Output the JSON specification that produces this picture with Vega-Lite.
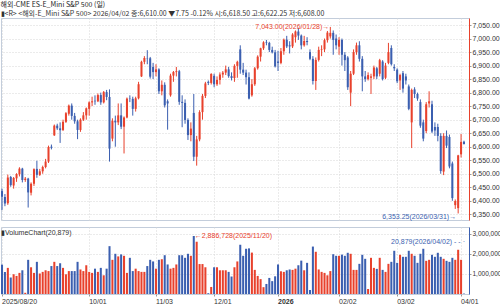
{
  "$schema": "https://vega.github.io/schema/vega-lite/v6.json",
  "padding": 0,
  "background": "white",
  "config": {
    "font": "Liberation Sans",
    "view": {"stroke": "#c3cddb"},
    "axis": {"labelFont": "Liberation Sans", "labelColor": "#333333", "domainColor": "#999999", "tickColor": "#999999", "gridColor": "#d6d6d6", "gridDash": [1, 2], "title": null},
    "axisY": {"labelOverlap": false, "tickCount": 40}
  },
  "title": {
    "text": "해외-CME ES-E_Mini S&P 500 (일)",
    "subtitle": "▮<R> <해외-E_Mini S&P 500> 2026/04/02 종:6,610.00   ▼7.75  -0.12%  시:6,618.50 고:6,622.25 저:6,608.00",
    "anchor": "start",
    "font": "Noto Sans CJK KR",
    "subtitleFont": "Noto Sans CJK KR",
    "fontSize": 7,
    "fontWeight": "normal",
    "subtitleFontSize": 7,
    "color": "#222222",
    "subtitleColor": "#333333",
    "offset": 1,
    "subtitlePadding": 2
  },
  "datasets": {
    "k": [
      {"d":"2025-08-20","o":6436,"h":6445,"l":6366,"c":6415,"v":1460000},
      {"d":"2025-08-21","o":6414,"h":6425,"l":6380,"c":6390,"v":1100000},
      {"d":"2025-08-22","o":6391,"h":6497,"l":6385,"c":6486,"v":1300000},
      {"d":"2025-08-25","o":6488,"h":6492,"l":6452,"c":6458,"v":820000},
      {"d":"2025-08-26","o":6457,"h":6488,"l":6445,"c":6484,"v":980000},
      {"d":"2025-08-27","o":6483,"h":6502,"l":6470,"c":6499,"v":900000},
      {"d":"2025-08-28","o":6498,"h":6524,"l":6490,"c":6519,"v":1050000},
      {"d":"2025-08-29","o":6519,"h":6522,"l":6468,"c":6477,"v":1180000},
      {"d":"2025-09-01","o":6477,"h":6488,"l":6470,"c":6482,"v":60000},
      {"d":"2025-09-02","o":6482,"h":6485,"l":6375,"c":6431,"v":1700000},
      {"d":"2025-09-03","o":6430,"h":6468,"l":6420,"c":6463,"v":1330000},
      {"d":"2025-09-04","o":6463,"h":6520,"l":6455,"c":6517,"v":1050000},
      {"d":"2025-09-05","o":6518,"h":6548,"l":6485,"c":6496,"v":1600000},
      {"d":"2025-09-08","o":6496,"h":6518,"l":6492,"c":6509,"v":1020000},
      {"d":"2025-09-09","o":6509,"h":6530,"l":6500,"c":6525,"v":1100000},
      {"d":"2025-09-10","o":6525,"h":6555,"l":6520,"c":6545,"v":1180000},
      {"d":"2025-09-11","o":6545,"h":6604,"l":6540,"c":6599,"v":1140000},
      {"d":"2025-09-12","o":6600,"h":6608,"l":6590,"c":6596,"v":1390000},
      {"d":"2025-09-15","o":6642,"h":6682,"l":6640,"c":6678,"v":1600000},
      {"d":"2025-09-16","o":6678,"h":6685,"l":6662,"c":6668,"v":1390000},
      {"d":"2025-09-17","o":6668,"h":6690,"l":6614,"c":6661,"v":1530000},
      {"d":"2025-09-18","o":6662,"h":6700,"l":6658,"c":6692,"v":1300000},
      {"d":"2025-09-19","o":6692,"h":6728,"l":6688,"c":6724,"v":980000},
      {"d":"2025-09-22","o":6722,"h":6756,"l":6715,"c":6752,"v":1140000},
      {"d":"2025-09-23","o":6752,"h":6760,"l":6700,"c":6714,"v":1140000},
      {"d":"2025-09-24","o":6714,"h":6725,"l":6685,"c":6694,"v":1140000},
      {"d":"2025-09-25","o":6694,"h":6700,"l":6628,"c":6662,"v":1600000},
      {"d":"2025-09-26","o":6662,"h":6705,"l":6655,"c":6700,"v":1220000},
      {"d":"2025-09-29","o":6700,"h":6728,"l":6695,"c":6716,"v":1140000},
      {"d":"2025-09-30","o":6716,"h":6745,"l":6700,"c":6742,"v":1430000},
      {"d":"2025-10-01","o":6740,"h":6768,"l":6715,"c":6764,"v":1100000},
      {"d":"2025-10-02","o":6764,"h":6785,"l":6750,"c":6768,"v":1050000},
      {"d":"2025-10-03","o":6770,"h":6790,"l":6755,"c":6768,"v":1260000},
      {"d":"2025-10-06","o":6768,"h":6797,"l":6765,"c":6791,"v":1100000},
      {"d":"2025-10-07","o":6791,"h":6800,"l":6755,"c":6764,"v":1300000},
      {"d":"2025-10-08","o":6764,"h":6806,"l":6760,"c":6802,"v":930000},
      {"d":"2025-10-09","o":6802,"h":6810,"l":6772,"c":6784,"v":1260000},
      {"d":"2025-10-10","o":6784,"h":6812,"l":6545,"c":6593,"v":2380000},
      {"d":"2025-10-13","o":6630,"h":6705,"l":6620,"c":6696,"v":1700000},
      {"d":"2025-10-14","o":6696,"h":6715,"l":6600,"c":6690,"v":2000000},
      {"d":"2025-10-15","o":6690,"h":6760,"l":6680,"c":6716,"v":1870000},
      {"d":"2025-10-16","o":6716,"h":6760,"l":6665,"c":6674,"v":1970000},
      {"d":"2025-10-17","o":6674,"h":6712,"l":6575,"c":6708,"v":1900000},
      {"d":"2025-10-20","o":6708,"h":6782,"l":6705,"c":6778,"v":1050000},
      {"d":"2025-10-21","o":6778,"h":6790,"l":6765,"c":6777,"v":1800000},
      {"d":"2025-10-22","o":6777,"h":6785,"l":6715,"c":6740,"v":1140000},
      {"d":"2025-10-23","o":6740,"h":6785,"l":6730,"c":6779,"v":1260000},
      {"d":"2025-10-24","o":6779,"h":6840,"l":6775,"c":6831,"v":1140000},
      {"d":"2025-10-27","o":6860,"h":6918,"l":6858,"c":6914,"v":1100000},
      {"d":"2025-10-28","o":6914,"h":6935,"l":6905,"c":6928,"v":1100000},
      {"d":"2025-10-29","o":6928,"h":6957,"l":6905,"c":6927,"v":1390000},
      {"d":"2025-10-30","o":6927,"h":6932,"l":6852,"c":6859,"v":1700000},
      {"d":"2025-10-31","o":6895,"h":6910,"l":6850,"c":6876,"v":1620000},
      {"d":"2025-11-03","o":6876,"h":6905,"l":6860,"c":6886,"v":1260000},
      {"d":"2025-11-04","o":6886,"h":6890,"l":6795,"c":6805,"v":1700000},
      {"d":"2025-11-05","o":6805,"h":6845,"l":6790,"c":6829,"v":1730000},
      {"d":"2025-11-06","o":6829,"h":6838,"l":6745,"c":6753,"v":1930000},
      {"d":"2025-11-07","o":6768,"h":6775,"l":6663,"c":6760,"v":1470000},
      {"d":"2025-11-10","o":6790,"h":6870,"l":6785,"c":6863,"v":1260000},
      {"d":"2025-11-11","o":6863,"h":6880,"l":6840,"c":6876,"v":1300000},
      {"d":"2025-11-12","o":6876,"h":6895,"l":6860,"c":6879,"v":1470000},
      {"d":"2025-11-13","o":6879,"h":6884,"l":6755,"c":6766,"v":1930000},
      {"d":"2025-11-14","o":6766,"h":6790,"l":6672,"c":6762,"v":1930000},
      {"d":"2025-11-17","o":6762,"h":6775,"l":6685,"c":6699,"v":1800000},
      {"d":"2025-11-18","o":6699,"h":6705,"l":6625,"c":6643,"v":2000000},
      {"d":"2025-11-19","o":6643,"h":6690,"l":6620,"c":6667,"v":1900000},
      {"d":"2025-11-20","o":6725,"h":6795,"l":6547,"c":6563,"v":2886728},
      {"d":"2025-11-21","o":6563,"h":6640,"l":6530,"c":6627,"v":2600000},
      {"d":"2025-11-24","o":6627,"h":6735,"l":6620,"c":6728,"v":1490000},
      {"d":"2025-11-25","o":6728,"h":6795,"l":6700,"c":6788,"v":1490000},
      {"d":"2025-11-26","o":6788,"h":6840,"l":6780,"c":6834,"v":1330000},
      {"d":"2025-11-27","o":6840,"h":6845,"l":6828,"c":6836,"v":40000},
      {"d":"2025-11-28","o":6836,"h":6872,"l":6830,"c":6869,"v":350000},
      {"d":"2025-12-01","o":6862,"h":6870,"l":6820,"c":6831,"v":1330000},
      {"d":"2025-12-02","o":6831,"h":6860,"l":6825,"c":6847,"v":1330000},
      {"d":"2025-12-03","o":6847,"h":6875,"l":6830,"c":6867,"v":1180000},
      {"d":"2025-12-04","o":6867,"h":6880,"l":6855,"c":6874,"v":1180000},
      {"d":"2025-12-05","o":6874,"h":6900,"l":6865,"c":6886,"v":1180000},
      {"d":"2025-12-08","o":6886,"h":6895,"l":6855,"c":6861,"v":1100000},
      {"d":"2025-12-09","o":6861,"h":6875,"l":6845,"c":6854,"v":870000},
      {"d":"2025-12-10","o":6854,"h":6905,"l":6840,"c":6899,"v":1330000},
      {"d":"2025-12-11","o":6899,"h":6918,"l":6855,"c":6914,"v":1620000},
      {"d":"2025-12-12","o":6960,"h":6975,"l":6870,"c":6885,"v":2450000},
      {"d":"2025-12-15","o":6885,"h":6910,"l":6865,"c":6874,"v":1900000},
      {"d":"2025-12-16","o":6874,"h":6885,"l":6830,"c":6857,"v":2250000},
      {"d":"2025-12-17","o":6857,"h":6875,"l":6775,"c":6778,"v":2270000},
      {"d":"2025-12-18","o":6790,"h":6850,"l":6785,"c":6831,"v":2060000},
      {"d":"2025-12-19","o":6831,"h":6895,"l":6825,"c":6890,"v":1200000},
      {"d":"2025-12-22","o":6890,"h":6938,"l":6885,"c":6933,"v":900000},
      {"d":"2025-12-23","o":6933,"h":6966,"l":6915,"c":6964,"v":740000},
      {"d":"2025-12-24","o":6964,"h":6990,"l":6958,"c":6986,"v":340000},
      {"d":"2025-12-26","o":6986,"h":6995,"l":6975,"c":6984,"v":500000},
      {"d":"2025-12-29","o":6984,"h":6988,"l":6950,"c":6958,"v":800000},
      {"d":"2025-12-30","o":6958,"h":6970,"l":6945,"c":6949,"v":640000},
      {"d":"2025-12-31","o":6949,"h":6958,"l":6893,"c":6897,"v":880000},
      {"d":"2026-01-02","o":6915,"h":6955,"l":6880,"c":6910,"v":1470000},
      {"d":"2026-01-05","o":6910,"h":6965,"l":6905,"c":6953,"v":1130000},
      {"d":"2026-01-06","o":6953,"h":7000,"l":6940,"c":6996,"v":1100000},
      {"d":"2026-01-07","o":6996,"h":7010,"l":6965,"c":6971,"v":1180000},
      {"d":"2026-01-08","o":6975,"h":6990,"l":6945,"c":6971,"v":1220000},
      {"d":"2026-01-09","o":6971,"h":7020,"l":6965,"c":7015,"v":1200000},
      {"d":"2026-01-12","o":7005,"h":7030,"l":6985,"c":7026,"v":1260000},
      {"d":"2026-01-13","o":7026,"h":7040,"l":6995,"c":7011,"v":1430000},
      {"d":"2026-01-14","o":7011,"h":7015,"l":6960,"c":6975,"v":1660000},
      {"d":"2026-01-15","o":6975,"h":7010,"l":6970,"c":6991,"v":1180000},
      {"d":"2026-01-16","o":6991,"h":7005,"l":6975,"c":6987,"v":1550000},
      {"d":"2026-01-19","o":6950,"h":6960,"l":6920,"c":6925,"v":200000},
      {"d":"2026-01-20","o":6925,"h":6935,"l":6830,"c":6843,"v":2360000},
      {"d":"2026-01-21","o":6843,"h":6930,"l":6810,"c":6921,"v":2100000},
      {"d":"2026-01-22","o":6921,"h":6970,"l":6915,"c":6958,"v":1220000},
      {"d":"2026-01-23","o":6958,"h":6975,"l":6935,"c":6960,"v":1100000},
      {"d":"2026-01-26","o":6960,"h":7000,"l":6950,"c":6994,"v":1050000},
      {"d":"2026-01-27","o":6994,"h":7028,"l":6985,"c":7022,"v":930000},
      {"d":"2026-01-28","o":7008,"h":7043,"l":7000,"c":7021,"v":1140000},
      {"d":"2026-01-29","o":7021,"h":7030,"l":6940,"c":6995,"v":1980000},
      {"d":"2026-01-30","o":7000,"h":7015,"l":6960,"c":6975,"v":1900000},
      {"d":"2026-02-02","o":6970,"h":7005,"l":6940,"c":6995,"v":1900000},
      {"d":"2026-02-03","o":6995,"h":7000,"l":6900,"c":6940,"v":1960000},
      {"d":"2026-02-04","o":6940,"h":6950,"l":6880,"c":6920,"v":1900000},
      {"d":"2026-02-05","o":6930,"h":6935,"l":6810,"c":6820,"v":2050000},
      {"d":"2026-02-06","o":6800,"h":6880,"l":6750,"c":6870,"v":2000000},
      {"d":"2026-02-09","o":6870,"h":6960,"l":6865,"c":6950,"v":1200000},
      {"d":"2026-02-10","o":6950,"h":6985,"l":6940,"c":6975,"v":1200000},
      {"d":"2026-02-11","o":6975,"h":6990,"l":6915,"c":6925,"v":1500000},
      {"d":"2026-02-12","o":6925,"h":6935,"l":6805,"c":6860,"v":1950000},
      {"d":"2026-02-13","o":6860,"h":6880,"l":6840,"c":6850,"v":1750000},
      {"d":"2026-02-16","o":6850,"h":6875,"l":6845,"c":6865,"v":250000},
      {"d":"2026-02-17","o":6855,"h":6870,"l":6795,"c":6860,"v":1800000},
      {"d":"2026-02-18","o":6860,"h":6900,"l":6850,"c":6893,"v":1300000},
      {"d":"2026-02-19","o":6890,"h":6895,"l":6850,"c":6860,"v":1250000},
      {"d":"2026-02-20","o":6870,"h":6925,"l":6860,"c":6920,"v":1800000},
      {"d":"2026-02-23","o":6915,"h":6920,"l":6845,"c":6850,"v":1200000},
      {"d":"2026-02-24","o":6855,"h":6910,"l":6850,"c":6900,"v":1100000},
      {"d":"2026-02-25","o":6910,"h":6984,"l":6905,"c":6950,"v":1500000},
      {"d":"2026-02-26","o":6965,"h":6975,"l":6900,"c":6905,"v":1600000},
      {"d":"2026-02-27","o":6895,"h":6905,"l":6880,"c":6890,"v":2150000},
      {"d":"2026-03-02","o":6885,"h":6890,"l":6835,"c":6842,"v":1550000},
      {"d":"2026-03-03","o":6845,"h":6870,"l":6810,"c":6865,"v":1950000},
      {"d":"2026-03-04","o":6872,"h":6880,"l":6800,"c":6815,"v":1850000},
      {"d":"2026-03-05","o":6860,"h":6870,"l":6830,"c":6845,"v":1850000},
      {"d":"2026-03-06","o":6823,"h":6830,"l":6735,"c":6740,"v":2150000},
      {"d":"2026-03-09","o":6690,"h":6815,"l":6595,"c":6810,"v":2000000},
      {"d":"2026-03-10","o":6812,"h":6820,"l":6780,"c":6795,"v":1900000},
      {"d":"2026-03-11","o":6795,"h":6800,"l":6770,"c":6778,"v":1550000},
      {"d":"2026-03-12","o":6765,"h":6775,"l":6670,"c":6678,"v":2000000},
      {"d":"2026-03-13","o":6690,"h":6700,"l":6620,"c":6630,"v":2250000},
      {"d":"2026-03-16","o":6658,"h":6765,"l":6650,"c":6757,"v":1650000},
      {"d":"2026-03-17","o":6760,"h":6805,"l":6745,"c":6768,"v":1700000},
      {"d":"2026-03-18","o":6757,"h":6770,"l":6650,"c":6656,"v":1950000},
      {"d":"2026-03-19","o":6673,"h":6690,"l":6640,"c":6660,"v":1850000},
      {"d":"2026-03-20","o":6673,"h":6685,"l":6620,"c":6640,"v":2050000},
      {"d":"2026-03-23","o":6640,"h":6650,"l":6500,"c":6510,"v":1850000},
      {"d":"2026-03-24","o":6508,"h":6650,"l":6495,"c":6640,"v":1750000},
      {"d":"2026-03-25","o":6640,"h":6660,"l":6595,"c":6604,"v":1650000},
      {"d":"2026-03-26","o":6636,"h":6645,"l":6520,"c":6527,"v":1600000},
      {"d":"2026-03-27","o":6538,"h":6545,"l":6400,"c":6410,"v":1800000},
      {"d":"2026-03-30","o":6384,"h":6405,"l":6370,"c":6399,"v":1700000},
      {"d":"2026-03-31","o":6373,"h":6570,"l":6353.25,"c":6568,"v":2200000},
      {"d":"2026-04-01","o":6572,"h":6647,"l":6560,"c":6617.75,"v":1700000},
      {"d":"2026-04-02","o":6618.5,"h":6622.25,"l":6608,"c":6610,"v":20879}
    ]
  },
  "spacing": 5,
  "vconcat": [
    {
      "width": 468,
      "height": 202,
      "data": {"name": "k"},
      "encoding": {
        "x": {
          "field": "d", "type": "ordinal",
          "scale": {"paddingInner": 0.3, "paddingOuter": 0.69, "align": 0},
          "axis": {"values": ["2025-08-20","2025-10-01","2025-11-03","2025-12-01","2026-01-02","2026-02-02","2026-03-02","2026-04-01"], "labels": false, "ticks": false, "domain": false, "grid": true}
        }
      },
      "layer": [
        {
          "mark": {"type": "rule", "strokeWidth": 1},
          "encoding": {
            "y": {"field": "l", "type": "quantitative", "scale": {"domain": [6329, 7076], "nice": false, "zero": false},
              "axis": {"orient": "right", "values": [6350,6400,6450,6500,6550,6600,6650,6700,6750,6800,6850,6900,6950,7000,7050], "tickCount": 40, "format": ",.2f", "labelFontSize": 7, "tickSize": 2, "labelPadding": 1, "labelOverlap": false, "domainColor": "#e8412c", "grid": true}},
            "y2": {"field": "h"},
            "color": {"condition": {"test": "datum.c >= datum.o", "value": "#e8412c"}, "value": "#3b5fb0"}
          }
        },
        {
          "mark": {"type": "bar"},
          "encoding": {
            "y": {"field": "o", "type": "quantitative"},
            "y2": {"field": "c"},
            "color": {"condition": {"test": "datum.c >= datum.o", "value": "#e8412c"}, "value": "#3b5fb0"}
          }
        },
        {
          "transform": [{"filter": "datum.d == '2026-01-28'"}],
          "mark": {"type": "text", "text": "7,043.00(2026/01/28)→", "align": "right", "baseline": "middle", "dx": -1, "fontSize": 7, "color": "#e8412c"},
          "encoding": {"y": {"field": "h", "type": "quantitative"}}
        },
        {
          "transform": [{"filter": "datum.d == '2026-03-31'"}],
          "mark": {"type": "text", "text": "6,353.25(2026/03/31)→", "align": "right", "baseline": "middle", "dx": -2, "dy": 4, "fontSize": 7, "color": "#3b5fb0"},
          "encoding": {"y": {"field": "l", "type": "quantitative"}}
        }
      ]
    },
    {
      "width": 468,
      "height": 67,
      "title": {"text": "▮VolumeChart(20,879)", "anchor": "start", "fontSize": 7, "fontWeight": "normal", "color": "#333333", "offset": -9, "font": "Liberation Sans"},
      "data": {"name": "k"},
      "encoding": {
        "x": {
          "field": "d", "type": "ordinal",
          "scale": {"paddingInner": 0.3, "paddingOuter": 0.69, "align": 0},
          "axis": {
            "values": ["2025-08-20","2025-10-01","2025-11-03","2025-12-01","2026-01-02","2026-02-02","2026-03-02","2026-04-01"],
            "labelExpr": "datum.value == '2025-08-20' ? '2025/08/20' : datum.value == '2026-01-02' ? '2026' : slice(datum.value, 5, 7) + '/' + slice(datum.value, 8, 10)",
            "labelAngle": 0, "labelAlign": "left", "labelBaseline": "top", "labelFontSize": 7, "labelPadding": 1, "tickSize": 2, "labelOverlap": false, "labelFlush": false,
            "labelFontWeight": {"condition": {"test": "datum.value == '2026-01-02'", "value": "bold"}, "value": "normal"},
            "domain": false, "grid": true
          }
        }
      },
      "layer": [
        {
          "mark": {"type": "bar"},
          "encoding": {
            "y": {"field": "v", "type": "quantitative", "scale": {"domain": [0, 3333000], "nice": false},
              "axis": {"orient": "right", "values": [1000000, 2000000, 3000000], "tickCount": 10, "format": ",.0f", "labelFontSize": 6.5, "tickSize": 2, "labelPadding": 1, "labelOverlap": false, "domainColor": "#3b5fb0", "grid": true}},
            "color": {"condition": {"test": "datum.c >= datum.o", "value": "#e8412c"}, "value": "#3b5fb0"}
          }
        },
        {
          "transform": [{"filter": "datum.d == '2025-11-20'"}],
          "mark": {"type": "text", "text": "←2,886,728(2025/11/20)", "align": "left", "baseline": "middle", "dx": 1, "fontSize": 7, "color": "#e8412c"},
          "encoding": {"y": {"field": "v", "type": "quantitative"}}
        },
        {
          "transform": [{"filter": "datum.d == '2026-04-02'"}],
          "mark": {"type": "text", "text": "20,879(2026/04/02) - - ·", "align": "right", "baseline": "middle", "dx": 1, "dy": -52, "fontSize": 7, "color": "#3b5fb0"},
          "encoding": {"y": {"field": "v", "type": "quantitative"}}
        }
      ]
    }
  ]
}
